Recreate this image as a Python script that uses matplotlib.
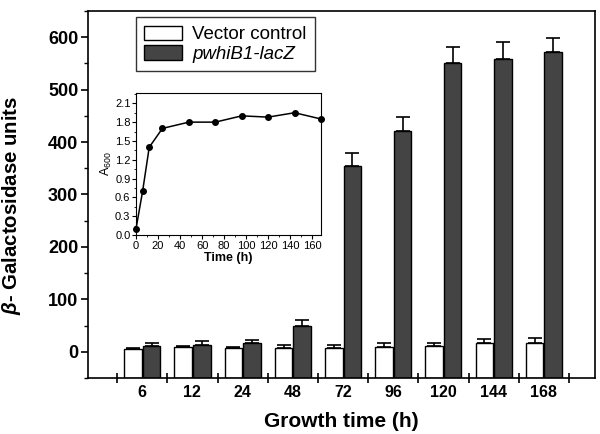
import numpy as np
import matplotlib
matplotlib.use('Agg')
import matplotlib.pyplot as plt
from matplotlib.ticker import MultipleLocator, FixedLocator

plt.rcParams['font.family'] = ['Liberation Sans', 'DejaVu Sans']
plt.rcParams['mathtext.fontset'] = 'custom'
plt.rcParams['mathtext.it'] = 'Liberation Sans:italic:bold'
plt.rcParams['mathtext.rm'] = 'Liberation Sans'

# growth times (h) for the bar groups
times = ['6', '12', '24', '48', '72', '96', '120', '144', '168']
vector_ctrl = [6, 9, 8, 8, 8, 10, 11, 16, 16]
vector_err = [2, 2, 2, 5, 5, 6, 6, 9, 10]
whib1_lacz = [11, 13, 16, 50, 355, 421, 551, 559, 571]
whib1_err = [5, 7, 7, 11, 25, 26, 30, 32, 28]

# inset: growth curve
curve_t = [0, 6, 12, 24, 48, 72, 96, 120, 144, 168]
curve_a600 = [0.1, 0.7, 1.4, 1.7, 1.8, 1.8, 1.9, 1.88, 1.95, 1.85]

ymin, ymax = -50, 650

fig = plt.figure(figsize=(6, 4.34), dpi=100)
ax = fig.add_axes([0.1467, 0.129, 0.845, 0.8457])

x = np.arange(len(times))
w = 0.35
off = 0.185
ebar = dict(ecolor='black', elinewidth=1.2, capsize=5, capthick=1.2)
# bars are drawn up from the bottom of the axis, as in the original
vc = np.array(vector_ctrl)
wl = np.array(whib1_lacz)
ax.bar(x - off, vc - ymin, w, bottom=ymin, color='white', edgecolor='black', linewidth=1.0,
       yerr=[np.zeros(len(x)), vector_err], error_kw=ebar, label='Vector control', zorder=2)
ax.bar(x + off, wl - ymin, w, bottom=ymin, color='#444444', edgecolor='black', linewidth=1.0,
       yerr=[np.zeros(len(x)), whib1_err], error_kw=ebar, label='pwhiB1-lacZ', zorder=2)

ax.set_xlim(-1.08, 9.02)
ax.set_ylim(ymin, ymax)
ax.yaxis.set_minor_locator(MultipleLocator(50))
ax.set_yticks([0, 100, 200, 300, 400, 500, 600])
ax.xaxis.set_major_locator(FixedLocator(np.arange(-0.5, 9, 1.0)))
ax.xaxis.set_minor_locator(FixedLocator(x))
ax.set_xticklabels([])
ax.set_xticklabels(times, minor=True)
ax.tick_params(axis='x', which='major', direction='inout', length=6.5, width=1.2)
ax.tick_params(axis='x', which='minor', length=0, pad=5, labelsize=11.5)
ax.tick_params(axis='y', which='major', direction='out', length=5, width=1.2, labelsize=13, pad=2)
ax.tick_params(axis='y', which='minor', direction='out', length=3, width=1.0)
for lab in ax.get_xticklabels(minor=True) + ax.get_yticklabels():
    lab.set_fontweight('bold')
for s in ax.spines.values():
    s.set_linewidth(1.2)

ax.set_xlabel('Growth time (h)', fontsize=15, fontweight='bold', labelpad=9)
ax.set_ylabel(r'$\beta$- Galactosidase units', fontsize=14.7, fontweight='bold')
ax.yaxis.set_label_coords(-0.128, 0.471)

leg = ax.legend(loc='upper left', bbox_to_anchor=(0.2267, 0.96), bbox_transform=fig.transFigure,
                fontsize=13.5, frameon=True, fancybox=False, edgecolor='black',
                handlelength=2.0, handleheight=0.8, labelspacing=0.1, borderpad=0.45,
                handletextpad=0.55, borderaxespad=0)
leg.get_frame().set_linewidth(1.0)
leg.get_texts()[1].set_fontstyle('italic')

# inset
ins = fig.add_axes([0.2267, 0.4585, 0.3083, 0.328])
ins.plot(curve_t, curve_a600, color='black', linewidth=1.1, marker='o', markersize=4, clip_on=False)
ins.set_xlim(0, 168)
ins.set_ylim(0, 2.27)
ins.xaxis.set_major_locator(MultipleLocator(20))
ins.xaxis.set_minor_locator(MultipleLocator(10))
ins.yaxis.set_minor_locator(MultipleLocator(0.15))
ins.set_yticks(np.arange(0, 2.11, 0.3))
ins.yaxis.set_major_formatter(matplotlib.ticker.FormatStrFormatter('%.1f'))
ins.tick_params(which='major', direction='out', length=3, width=0.8, labelsize=8, pad=1)
ins.tick_params(which='minor', direction='out', length=1.5, width=0.6)
for s in ins.spines.values():
    s.set_linewidth(0.8)
ins.set_xlabel('Time (h)', fontsize=9, fontweight='bold', labelpad=1)
ins.set_ylabel(r'A$_{600}$', fontsize=9, labelpad=1)

fig.savefig('out.png', dpi=100)
